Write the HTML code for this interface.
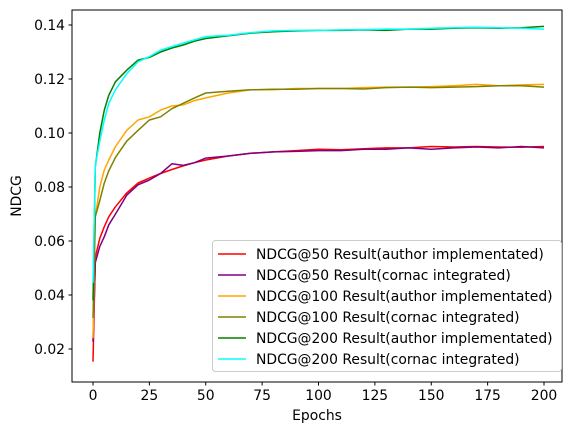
<!DOCTYPE html>
<html><head><meta charset="utf-8"><style>
body{margin:0;background:#fff;}
svg text{font-family:"DejaVu Sans","Liberation Sans",sans-serif;font-size:13.9px;fill:#000;}
</style></head><body>
<svg id="chart" width="576" height="432" xmlns="http://www.w3.org/2000/svg">
<rect x="0" y="0" width="576" height="432" fill="#fff"/>
<g id="plot"></g>
<rect x="72" y="10" width="490" height="372" fill="none" stroke="#000" stroke-width="1"/>
<g id="xt"></g>
<g id="yt"></g>
<text x="317" y="420" text-anchor="middle">Epochs</text>
<text x="0" y="0" transform="translate(21,196) rotate(-90)" text-anchor="middle">NDCG</text>
<g id="legend"></g>
</svg>
<script>
const epochs=[0,1,3,5,7,10,15,20,25,30,35,40,45,50,60,70,80,90,100,110,120,130,140,150,160,170,180,190,200];
const ndcg50Author=[0.0153,0.054,0.061,0.0653,0.069,0.0727,0.0778,0.0815,0.0833,0.085,0.0865,0.0878,0.089,0.090,0.0915,0.0925,0.093,0.0935,0.094,0.0938,0.0942,0.0945,0.0945,0.095,0.0948,0.095,0.0948,0.0947,0.095];
const ndcg50Cornac=[0.0227,0.052,0.058,0.0616,0.066,0.070,0.077,0.0808,0.0826,0.085,0.0886,0.088,0.089,0.0907,0.0915,0.0925,0.093,0.0932,0.0935,0.0935,0.094,0.094,0.0945,0.094,0.0945,0.0948,0.0945,0.095,0.0945];
const ndcg100Author=[0.024,0.069,0.080,0.0863,0.090,0.095,0.101,0.1048,0.106,0.1085,0.110,0.1104,0.112,0.113,0.1148,0.116,0.116,0.1165,0.1165,0.1165,0.1168,0.117,0.117,0.1172,0.1175,0.118,0.1175,0.1178,0.118];
const ndcg100Cornac=[0.0315,0.069,0.075,0.0815,0.086,0.091,0.097,0.101,0.1048,0.106,0.109,0.111,0.113,0.1148,0.1155,0.116,0.1162,0.1162,0.1165,0.1165,0.1163,0.1168,0.117,0.1168,0.117,0.1172,0.1175,0.1175,0.117];
const ndcg200Author=[0.038,0.0875,0.100,0.1085,0.114,0.119,0.1233,0.127,0.128,0.130,0.1315,0.1326,0.134,0.135,0.136,0.137,0.1375,0.1378,0.138,0.138,0.1382,0.138,0.1385,0.1385,0.1388,0.139,0.1388,0.139,0.1395];
const ndcg200Cornac=[0.0445,0.088,0.097,0.1048,0.111,0.116,0.122,0.1264,0.1283,0.1307,0.132,0.1333,0.1345,0.1357,0.1362,0.1372,0.1378,0.138,0.138,0.1382,0.1383,0.1385,0.1385,0.1388,0.139,0.1392,0.139,0.1388,0.1385];
const seriesLabels=["NDCG@50 Result(author implementated)","NDCG@50 Result(cornac integrated)","NDCG@100 Result(author implementated)","NDCG@100 Result(cornac integrated)","NDCG@200 Result(author implementated)","NDCG@200 Result(cornac integrated)"];
const xTicks=[0,25,50,75,100,125,150,175,200];
const yTicks=[0.02,0.04,0.06,0.08,0.10,0.12,0.14];
const yTickLabels=["0.02","0.04","0.06","0.08","0.10","0.12","0.14"];

const NS="http://www.w3.org/2000/svg";
const X=e=>93+e*2.255;
const Y=v=>25+(0.14-v)*2700;
const allSeries=[ndcg50Author,ndcg50Cornac,ndcg100Author,ndcg100Cornac,ndcg200Author,ndcg200Cornac];
const colors=["red","purple","orange","olive","green","cyan"];
const names=["ndcg50-author","ndcg50-cornac","ndcg100-author","ndcg100-cornac","ndcg200-author","ndcg200-cornac"];
function mk(t,a){const el=document.createElementNS(NS,t);for(const k in a)el.setAttribute(k,a[k]);return el;}
const plot=document.getElementById('plot');
allSeries.forEach((s,i)=>{
  const p=mk('polyline',{points:s.map((v,j)=>X(epochs[j]).toFixed(1)+','+Y(v).toFixed(1)).join(' '),fill:'none',stroke:colors[i],'stroke-width':1.5,'stroke-linejoin':'round'});
  
  
  plot.appendChild(p);
});
const xt=document.getElementById('xt');
xTicks.forEach(t=>{
  const l=mk('line',{x1:X(t),x2:X(t),y1:382,y2:385.5,stroke:'#000'});
  
  
  xt.appendChild(l);
  const tx=mk('text',{x:X(t),y:400,'text-anchor':'middle'});tx.textContent=t;
  
  
  xt.appendChild(tx);
});
const yt=document.getElementById('yt');
yTicks.forEach((t,i)=>{
  const l=mk('line',{x1:68.5,x2:72,y1:Y(t),y2:Y(t),stroke:'#000'});
  
  
  yt.appendChild(l);
  const tx=mk('text',{x:65,y:Y(t)+5,'text-anchor':'end'});tx.textContent=yTickLabels[i];
  
  
  yt.appendChild(tx);
});
const lg=document.getElementById('legend');
const box=mk('rect',{x:212.5,y:240.5,width:349,height:131,rx:3,fill:'#fff','fill-opacity':0.8,stroke:'#ccc'});


lg.appendChild(box);
seriesLabels.forEach((s,i)=>{
  const y=254+i*21;
  const l=mk('line',{x1:218,x2:246,y1:y,y2:y,stroke:colors[i],'stroke-width':1.5});
  
  
  lg.appendChild(l);
  const tx=mk('text',{x:256,y:y+5});tx.textContent=s;
  
  
  lg.appendChild(tx);
});
</script>
</body></html>
